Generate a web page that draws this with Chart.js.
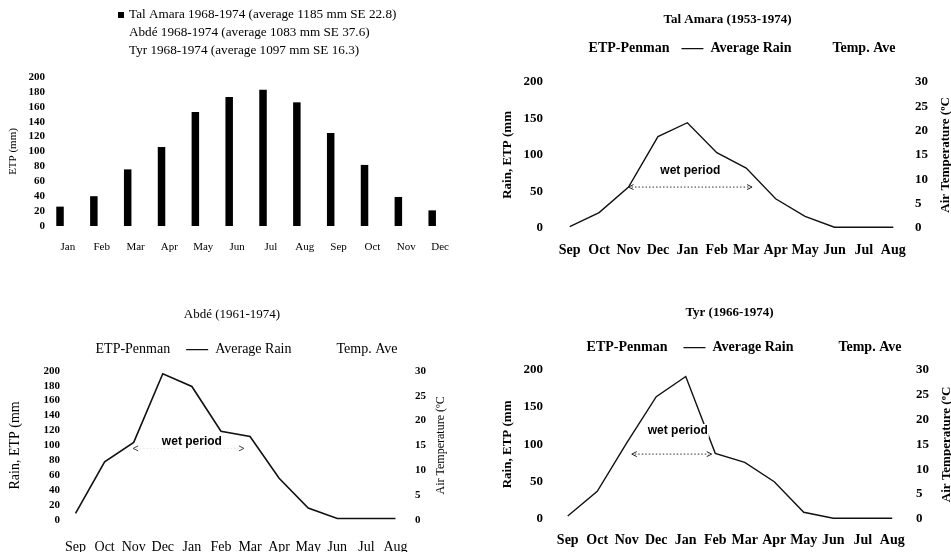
<!DOCTYPE html>
<html>
<head>
<meta charset="utf-8">
<title>ETP and rain, Tal Amara, Abdé, Tyr</title>
<script src="https://cdn.jsdelivr.net/npm/chart.js@4.4.1/dist/chart.umd.min.js"></script>
<style>
  html, body { margin: 0; padding: 0; background: #fff; overflow: hidden; }
  body { width: 951px; height: 552px; position: relative; }
  .panel { position: absolute; }
</style>
</head>
<body>
<div class="panel" style="left:0;top:0;width:475px;height:270px"><canvas id="etpChart"></canvas></div>
<div class="panel" style="left:480px;top:0;width:495px;height:270px"><canvas id="talChart"></canvas></div>
<div class="panel" style="left:0;top:290px;width:464px;height:262px"><canvas id="abdeChart"></canvas></div>
<div class="panel" style="left:480px;top:290px;width:499px;height:262px"><canvas id="tyrChart"></canvas></div>

<script>
// monthly ETP (mm), calendar year
const etpMonths = ['Jan', 'Feb', 'Mar', 'Apr', 'May', 'Jun', 'Jul', 'Aug', 'Sep', 'Oct', 'Nov', 'Dec'];
const etpTalAmara = [26, 40, 76, 106, 153, 173, 183, 166, 125, 82, 39, 21];
const etpSeries = [
  'Tal Amara 1968-1974 (average 1185 mm SE 22.8)',
  'Abdé 1968-1974 (average 1083 mm SE 37.6)',
  'Tyr 1968-1974 (average 1097 mm SE 16.3)'
];

// average rain (mm), hydrological year Sep-Aug
const hydroMonths = ['Sep', 'Oct', 'Nov', 'Dec', 'Jan', 'Feb', 'Mar', 'Apr', 'May', 'Jun', 'Jul', 'Aug'];
const rainTalAmara = [2, 21, 56, 125, 144, 103, 82, 40, 16, 1, 1, 1];
const rainAbde = [9, 78, 104, 196, 179, 119, 112, 56, 16, 2, 2, 2];
const rainTyr = [4, 37, 102, 164, 191, 88, 76, 50, 9, 1, 1, 1];
const lineLegend = ['ETP-Penman', 'Average Rain', 'Temp. Ave'];

// wet period arrow: [from month index, to month index, level mm], label [month index, level mm]
const wetTalAmara = [2, 6.2, 56];
const wetTalAmaraLabel = [4.1, 79];
const wetAbde = [1.98, 5.79, 96];
const wetAbdeLabel = [4.0, 105];
const wetTyr = [2.17, 4.88, 87];
const wetTyrLabel = [3.73, 118];

const serif = "'Liberation Serif', 'Times New Roman', serif";
Chart.defaults.font.family = serif;
Chart.defaults.color = '#000';

const wetPeriod = {
  id: 'wetPeriod',
  afterDatasetsDraw(chart, args, o) {
    if (!o || !o.range) return;
    const {ctx, scales: {x, y}} = chart;
    const x1 = x.getPixelForValue(o.range[0]);
    const x2 = x.getPixelForValue(o.range[1]);
    const yy = y.getPixelForValue(o.range[2]);
    ctx.save();
    // label, with white behind it so the rain line is broken there
    ctx.font = o.font;
    ctx.textAlign = 'center';
    ctx.textBaseline = 'middle';
    const tx = x.getPixelForValue(o.label[0]);
    const ty = y.getPixelForValue(o.label[1]);
    const w = ctx.measureText('wet period').width;
    ctx.fillStyle = '#fff';
    ctx.fillRect(tx - w / 2 - 1, ty - 7, w + 2, 14);
    ctx.fillStyle = '#000';
    ctx.fillText('wet period', tx, ty);
    ctx.lineWidth = 1;
    ctx.strokeStyle = o.lineColor;
    ctx.setLineDash([1.5, 2]);
    ctx.beginPath();
    ctx.moveTo(x1 + 3, yy);
    ctx.lineTo(x2 - 3, yy);
    ctx.stroke();
    ctx.setLineDash([]);
    ctx.strokeStyle = o.headColor;
    ctx.beginPath();
    ctx.moveTo(x1 + 5, yy - 2.5); ctx.lineTo(x1, yy); ctx.lineTo(x1 + 5, yy + 2.5);
    ctx.moveTo(x2 - 5, yy - 2.5); ctx.lineTo(x2, yy); ctx.lineTo(x2 - 5, yy + 2.5);
    ctx.stroke();
    ctx.restore();
  }
};

// right axis title reads bottom to top, like the left one
const sideTitle = {
  id: 'sideTitle',
  afterDraw(chart, args, o) {
    if (!o || !o.text) return;
    const {ctx, chartArea} = chart;
    ctx.save();
    ctx.translate(o.x, (chartArea.top + chartArea.bottom) / 2);
    ctx.rotate(-Math.PI / 2);
    ctx.font = o.font;
    ctx.fillStyle = '#000';
    ctx.textAlign = 'center';
    ctx.textBaseline = 'middle';
    ctx.fillText(o.text, 0, 0);
    ctx.restore();
  }
};

// bar chart legend: one line per series, left aligned
const stackedLegend = {
  id: 'stackedLegend',
  afterDraw(chart, args, o) {
    if (!o || !o.x) return;
    const {ctx} = chart;
    ctx.save();
    ctx.font = o.font;
    ctx.textAlign = 'left';
    ctx.textBaseline = 'middle';
    chart.data.datasets.forEach((ds, i) => {
      const y = o.y + i * o.lineHeight;
      ctx.fillStyle = ds.backgroundColor;
      ctx.fillRect(o.x - o.box - o.gap, y - o.box / 2, o.box, o.box);
      ctx.fillStyle = '#000';
      ctx.fillText(ds.label, o.x, y);
    });
    ctx.restore();
  }
};

Chart.register(wetPeriod, sideTitle, stackedLegend);

const noGrid = {display: false, drawTicks: false};

new Chart(document.getElementById('etpChart'), {
  type: 'bar',
  data: {
    labels: etpMonths,
    datasets: [
      {label: etpSeries[0], data: etpTalAmara, backgroundColor: '#000'},
      {label: etpSeries[1], data: [], backgroundColor: '#fff'},
      {label: etpSeries[2], data: [], backgroundColor: '#fff'}
    ]
  },
  options: {
    responsive: true,
    maintainAspectRatio: false,
    animation: false,
    categoryPercentage: 0.7,
    barPercentage: 0.95,
    layout: {padding: {top: 77, right: 18, bottom: 0, left: 0}},
    plugins: {
      legend: {display: false},
      tooltip: {enabled: false},
      stackedLegend: {x: 129, y: 15, lineHeight: 18, box: 6, gap: 5, font: '13.2px ' + serif}
    },
    scales: {
      x: {
        grid: noGrid, border: {display: false},
        ticks: {font: {size: 11}, padding: 15, autoSkip: false, maxRotation: 0},
        afterFit: s => { s.height = 44; }
      },
      y: {
        min: 0, max: 200,
        grid: noGrid, border: {display: false},
        ticks: {stepSize: 20, autoSkip: false, font: {size: 11, weight: 'bold'}, padding: 6},
        title: {display: true, text: 'ETP (mm)', font: {size: 11}, padding: {top: 7, bottom: 0}},
        afterFit: s => { s.width = 51; }
      }
    }
  }
});

function hydroChart(id, c) {
  return new Chart(document.getElementById(id), {
    type: 'line',
    data: {
      labels: hydroMonths,
      datasets: [{
        label: 'Average Rain', data: c.rain, yAxisID: 'y',
        borderColor: '#111', borderWidth: c.lineWidth, pointRadius: 0, tension: 0
      }]
    },
    options: {
      responsive: true,
      maintainAspectRatio: false,
      animation: false,
      layout: {padding: 0},
      plugins: {
        title: {display: true, text: c.title, font: c.titleFont, padding: c.titlePad},
        legend: {
          display: true,
          labels: {
            usePointStyle: true, pointStyle: 'line', pointStyleWidth: 22,
            padding: c.legendPad, font: c.legendFont, color: '#000',
            generateLabels: () => lineLegend.map((t, i) => ({
              text: t,
              fillStyle: 'transparent',
              strokeStyle: i === 1 ? '#111' : 'transparent',
              lineWidth: i === 1 ? 1.4 : 0,
              pointStyle: 'line',
              hidden: false,
              fontColor: '#000'
            }))
          },
          onClick: () => {}
        },
        subtitle: {display: true, text: '', weight: 500, font: {size: 1}, padding: {top: 0, bottom: c.gap}},
        tooltip: {enabled: false},
        wetPeriod: {range: c.wet, label: c.wetLabel, font: 'bold 12px "Liberation Sans", Arial, sans-serif',
          lineColor: c.wetLine, headColor: c.wetHead},
        sideTitle: {text: 'Air Temperature (ºC', x: c.rightTitleX, font: c.rightTitleFont}
      },
      scales: {
        x: {
          offset: true,
          grid: noGrid, border: {display: false},
          ticks: {font: c.xFont, padding: c.xPad, autoSkip: false, maxRotation: 0},
          afterFit: s => { s.height = c.xH; }
        },
        y: {
          position: 'left', min: 0, max: 200,
          grid: noGrid, border: {display: false},
          ticks: {stepSize: c.step, autoSkip: false, font: c.yFont, padding: c.yPad},
          title: {display: true, text: 'Rain, ETP (mm', font: c.yTitleFont, padding: {top: c.yTitleTop, bottom: 0}},
          afterFit: s => { s.width = c.yW; }
        },
        y1: {
          position: 'right', min: 0, max: 30,
          grid: noGrid, border: {display: false},
          ticks: {stepSize: 5, autoSkip: false, font: c.yFont, padding: c.y1Pad},
          afterFit: s => { s.width = c.y1W; }
        }
      }
    }
  });
}

const boldSerif = size => ({size: size, weight: 'bold'});
const plainSerif = size => ({size: size, weight: 'normal'});

hydroChart('talChart', {
  title: 'Tal Amara (1953-1974)', rain: rainTalAmara, step: 50, lineWidth: 1.4,
  titleFont: boldSerif(13), titlePad: {top: 12, bottom: 2},
  legendFont: boldSerif(14), legendPad: 12, gap: 15,
  xFont: boldSerif(14), xPad: 14, xH: 42,
  yFont: boldSerif(13), yPad: 12, yW: 75, yTitleFont: boldSerif(13), yTitleTop: 20,
  y1Pad: 7, y1W: 67,
  rightTitleX: 466, rightTitleFont: 'bold 13px ' + serif,
  wet: wetTalAmara, wetLabel: wetTalAmaraLabel, wetLine: '#333', wetHead: '#222'
});

hydroChart('abdeChart', {
  title: 'Abdé (1961-1974)', rain: rainAbde, step: 20, lineWidth: 1.6,
  titleFont: plainSerif(13), titlePad: {top: 17, bottom: 4},
  legendFont: plainSerif(14), legendPad: 16, gap: 3,
  xFont: plainSerif(14), xPad: 18.6, xH: 32,
  yFont: boldSerif(11), yPad: 1, yW: 61, yTitleFont: plainSerif(14), yTitleTop: 6.6,
  y1Pad: 5, y1W: 54,
  rightTitleX: 441, rightTitleFont: '12px ' + serif,
  wet: wetAbde, wetLabel: wetAbdeLabel, wetLine: '#e4e4e4', wetHead: '#444'
});

hydroChart('tyrChart', {
  title: 'Tyr (1966-1974)', rain: rainTyr, step: 50, lineWidth: 1.4,
  titleFont: boldSerif(13), titlePad: {top: 15, bottom: 4},
  legendFont: boldSerif(14), legendPad: 16, gap: 4,
  xFont: boldSerif(14), xPad: 12.6, xH: 33,
  yFont: boldSerif(13), yPad: 10, yW: 73, yTitleFont: boldSerif(13), yTitleTop: 20,
  y1Pad: 9, y1W: 72,
  rightTitleX: 467, rightTitleFont: 'bold 13px ' + serif,
  wet: wetTyr, wetLabel: wetTyrLabel, wetLine: '#333', wetHead: '#222'
});
</script>
</body>
</html>
